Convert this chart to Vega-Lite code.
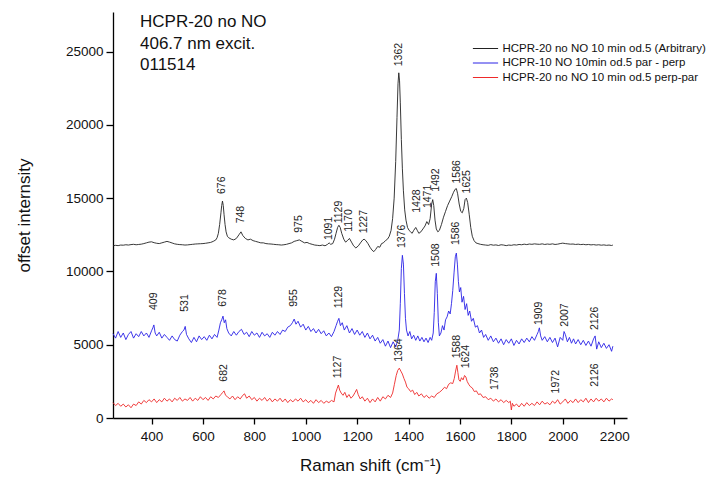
{
  "$schema": "https://vega.github.io/schema/vega-lite/v6.json",
  "width": 514,
  "height": 406,
  "autosize": "none",
  "padding": {"left": 113, "top": 12, "right": 79, "bottom": 67},
  "background": "white",
  "title": {
    "text": ["HCPR-20 no NO", "406.7 nm excit.", "011514"],
    "orient": "top",
    "anchor": "start",
    "frame": "group",
    "baseline": "top",
    "offset": 0,
    "dx": 27,
    "dy": 62,
    "fontSize": 17,
    "lineHeight": 21.5,
    "fontWeight": "normal",
    "font": "Liberation Sans",
    "color": "#111"
  },
  "config": {
    "view": {"stroke": null},
    "font": "Liberation Sans",
    "axis": {
      "grid": false,
      "domainColor": "#000",
      "domainWidth": 1.3,
      "tickColor": "#000",
      "tickWidth": 1.3,
      "labelFont": "Liberation Sans",
      "labelFontSize": 13.5,
      "labelColor": "#111",
      "labelOverlap": false,
      "labelFlush": false,
      "titleFont": "Liberation Sans",
      "titleFontSize": 17,
      "titleFontWeight": "normal",
      "titleColor": "#111"
    }
  },
  "datasets": {
    "black": [
      {"x":250,"y":11750},{"x":260,"y":11780},{"x":270,"y":11760},{"x":280,"y":11800},{"x":290,"y":11790},{"x":300,"y":11820},{"x":310,"y":11800},{"x":320,"y":11830},{"x":330,"y":11850},{"x":340,"y":11820},{"x":350,"y":11840},{"x":360,"y":11860},{"x":370,"y":11900},{"x":380,"y":11950},{"x":390,"y":12000},{"x":400,"y":12020},{"x":410,"y":11960},{"x":420,"y":11920},{"x":430,"y":11900},{"x":440,"y":11950},{"x":450,"y":12000},{"x":460,"y":12050},{"x":470,"y":12000},{"x":480,"y":11940},{"x":490,"y":11880},{"x":500,"y":11850},{"x":510,"y":11830},{"x":520,"y":11820},{"x":530,"y":11800},{"x":540,"y":11810},{"x":550,"y":11830},{"x":560,"y":11850},{"x":570,"y":11870},{"x":580,"y":11880},{"x":590,"y":11890},{"x":600,"y":11900},{"x":610,"y":11920},{"x":620,"y":11950},{"x":630,"y":11980},{"x":640,"y":12050},{"x":650,"y":12150},{"x":655,"y":12300},{"x":660,"y":12600},{"x":665,"y":13200},{"x":670,"y":14000},{"x":673,"y":14500},{"x":676,"y":14800},{"x":679,"y":14500},{"x":682,"y":13900},{"x":686,"y":13200},{"x":690,"y":12700},{"x":695,"y":12400},{"x":700,"y":12300},{"x":710,"y":12200},{"x":720,"y":12150},{"x":730,"y":12250},{"x":740,"y":12500},{"x":748,"y":12700},{"x":755,"y":12450},{"x":765,"y":12250},{"x":775,"y":12150},{"x":785,"y":12200},{"x":795,"y":12100},{"x":805,"y":12050},{"x":815,"y":12000},{"x":825,"y":11950},{"x":835,"y":11950},{"x":845,"y":11900},{"x":855,"y":11880},{"x":865,"y":11870},{"x":875,"y":11850},{"x":885,"y":11830},{"x":895,"y":11820},{"x":905,"y":11800},{"x":915,"y":11820},{"x":925,"y":11850},{"x":935,"y":11900},{"x":945,"y":11950},{"x":955,"y":12050},{"x":965,"y":12100},{"x":975,"y":12150},{"x":985,"y":12050},{"x":995,"y":11950},{"x":1005,"y":11980},{"x":1015,"y":11900},{"x":1025,"y":11850},{"x":1035,"y":11800},{"x":1045,"y":11780},{"x":1055,"y":11760},{"x":1065,"y":11800},{"x":1075,"y":11750},{"x":1085,"y":11850},{"x":1091,"y":11950},{"x":1097,"y":11850},{"x":1105,"y":11900},{"x":1112,"y":12200},{"x":1118,"y":12600},{"x":1124,"y":13000},{"x":1129,"y":13150},{"x":1134,"y":13000},{"x":1140,"y":12600},{"x":1148,"y":12200},{"x":1155,"y":12000},{"x":1162,"y":12100},{"x":1170,"y":12250},{"x":1178,"y":12000},{"x":1186,"y":11750},{"x":1195,"y":11600},{"x":1205,"y":11750},{"x":1215,"y":12000},{"x":1222,"y":12150},{"x":1227,"y":12200},{"x":1234,"y":12100},{"x":1242,"y":11900},{"x":1250,"y":11650},{"x":1258,"y":11450},{"x":1265,"y":11350},{"x":1272,"y":11500},{"x":1280,"y":11700},{"x":1288,"y":11650},{"x":1295,"y":11900},{"x":1302,"y":11950},{"x":1310,"y":12100},{"x":1318,"y":12200},{"x":1325,"y":12400},{"x":1332,"y":12800},{"x":1338,"y":13600},{"x":1344,"y":15000},{"x":1350,"y":17500},{"x":1355,"y":20500},{"x":1359,"y":22800},{"x":1362,"y":23550},{"x":1365,"y":23000},{"x":1368,"y":21500},{"x":1372,"y":19000},{"x":1376,"y":17000},{"x":1380,"y":15500},{"x":1385,"y":14200},{"x":1390,"y":13500},{"x":1396,"y":13000},{"x":1402,"y":12800},{"x":1408,"y":12700},{"x":1414,"y":12600},{"x":1420,"y":12800},{"x":1428,"y":13000},{"x":1434,"y":12800},{"x":1440,"y":12600},{"x":1448,"y":12700},{"x":1456,"y":12900},{"x":1464,"y":13100},{"x":1471,"y":13400},{"x":1478,"y":13200},{"x":1484,"y":13600},{"x":1490,"y":14600},{"x":1494,"y":14900},{"x":1498,"y":14500},{"x":1503,"y":13500},{"x":1508,"y":12900},{"x":1514,"y":12700},{"x":1520,"y":12800},{"x":1528,"y":13200},{"x":1536,"y":13700},{"x":1544,"y":14100},{"x":1552,"y":14500},{"x":1560,"y":14800},{"x":1568,"y":15100},{"x":1575,"y":15400},{"x":1581,"y":15600},{"x":1586,"y":15650},{"x":1591,"y":15300},{"x":1597,"y":14600},{"x":1603,"y":14100},{"x":1609,"y":14000},{"x":1615,"y":14300},{"x":1620,"y":14900},{"x":1625,"y":15000},{"x":1630,"y":14700},{"x":1636,"y":13900},{"x":1642,"y":13000},{"x":1648,"y":12400},{"x":1655,"y":12100},{"x":1662,"y":11950},{"x":1670,"y":11900},{"x":1680,"y":11850},{"x":1690,"y":11820},{"x":1700,"y":11800},{"x":1710,"y":11780},{"x":1720,"y":11830},{"x":1730,"y":11790},{"x":1740,"y":11810},{"x":1750,"y":11770},{"x":1760,"y":11820},{"x":1770,"y":11800},{"x":1780,"y":11760},{"x":1790,"y":11800},{"x":1800,"y":11780},{"x":1810,"y":11820},{"x":1820,"y":11800},{"x":1830,"y":11840},{"x":1840,"y":11820},{"x":1850,"y":11860},{"x":1860,"y":11830},{"x":1870,"y":11870},{"x":1880,"y":11850},{"x":1890,"y":11880},{"x":1900,"y":11860},{"x":1910,"y":11850},{"x":1920,"y":11880},{"x":1930,"y":11840},{"x":1940,"y":11870},{"x":1950,"y":11850},{"x":1960,"y":11880},{"x":1970,"y":11840},{"x":1980,"y":11860},{"x":1990,"y":11900},{"x":2000,"y":11930},{"x":2010,"y":11900},{"x":2020,"y":11880},{"x":2030,"y":11860},{"x":2040,"y":11870},{"x":2050,"y":11840},{"x":2060,"y":11860},{"x":2070,"y":11830},{"x":2080,"y":11850},{"x":2090,"y":11820},{"x":2100,"y":11840},{"x":2110,"y":11810},{"x":2120,"y":11830},{"x":2130,"y":11800},{"x":2140,"y":11820},{"x":2150,"y":11790},{"x":2160,"y":11810},{"x":2170,"y":11780},{"x":2180,"y":11800},{"x":2190,"y":11770},{"x":2195,"y":11800}
    ],
    "blue": [
      {"x":250,"y":5760},{"x":260,"y":5450},{"x":270,"y":5900},{"x":280,"y":5500},{"x":290,"y":5800},{"x":300,"y":5350},{"x":310,"y":5700},{"x":320,"y":5900},{"x":330,"y":5450},{"x":340,"y":5750},{"x":350,"y":5550},{"x":360,"y":5900},{"x":370,"y":5600},{"x":380,"y":5800},{"x":390,"y":5500},{"x":400,"y":5950},{"x":405,"y":6150},{"x":409,"y":6350},{"x":414,"y":5800},{"x":420,"y":5600},{"x":430,"y":5850},{"x":440,"y":5450},{"x":450,"y":5700},{"x":460,"y":5500},{"x":470,"y":5300},{"x":480,"y":5600},{"x":490,"y":5350},{"x":500,"y":5250},{"x":510,"y":5650},{"x":520,"y":5900},{"x":526,"y":6000},{"x":531,"y":6250},{"x":536,"y":5700},{"x":545,"y":5400},{"x":555,"y":5150},{"x":565,"y":5500},{"x":575,"y":5200},{"x":585,"y":5600},{"x":595,"y":5350},{"x":605,"y":5550},{"x":615,"y":5300},{"x":625,"y":5650},{"x":635,"y":5400},{"x":645,"y":5700},{"x":655,"y":5500},{"x":662,"y":6000},{"x":668,"y":6500},{"x":673,"y":6700},{"x":678,"y":6950},{"x":683,"y":6500},{"x":688,"y":6700},{"x":693,"y":6100},{"x":700,"y":5800},{"x":710,"y":5600},{"x":720,"y":5900},{"x":730,"y":5650},{"x":740,"y":5900},{"x":750,"y":6050},{"x":760,"y":5700},{"x":770,"y":5850},{"x":780,"y":5550},{"x":790,"y":5900},{"x":800,"y":5650},{"x":810,"y":5800},{"x":820,"y":5500},{"x":830,"y":5850},{"x":840,"y":5600},{"x":850,"y":5750},{"x":860,"y":5500},{"x":870,"y":5850},{"x":880,"y":5650},{"x":890,"y":5900},{"x":900,"y":5700},{"x":910,"y":6000},{"x":920,"y":5900},{"x":930,"y":6200},{"x":940,"y":6300},{"x":948,"y":6500},{"x":955,"y":6750},{"x":962,"y":6400},{"x":970,"y":6600},{"x":980,"y":6200},{"x":990,"y":6400},{"x":1000,"y":6000},{"x":1010,"y":6250},{"x":1020,"y":5900},{"x":1030,"y":6100},{"x":1040,"y":5800},{"x":1050,"y":6050},{"x":1060,"y":5750},{"x":1070,"y":5950},{"x":1080,"y":5600},{"x":1090,"y":5800},{"x":1100,"y":5550},{"x":1110,"y":5900},{"x":1118,"y":6300},{"x":1124,"y":6600},{"x":1129,"y":6800},{"x":1135,"y":6300},{"x":1142,"y":6500},{"x":1150,"y":6000},{"x":1160,"y":6300},{"x":1170,"y":5800},{"x":1180,"y":6100},{"x":1190,"y":5700},{"x":1200,"y":6000},{"x":1210,"y":5650},{"x":1220,"y":5900},{"x":1230,"y":5500},{"x":1240,"y":5800},{"x":1250,"y":5400},{"x":1260,"y":5650},{"x":1270,"y":5250},{"x":1280,"y":5500},{"x":1290,"y":5100},{"x":1300,"y":5350},{"x":1310,"y":4900},{"x":1320,"y":5250},{"x":1330,"y":4800},{"x":1340,"y":5200},{"x":1350,"y":4850},{"x":1358,"y":5300},{"x":1364,"y":6000},{"x":1368,"y":7800},{"x":1372,"y":10200},{"x":1376,"y":11100},{"x":1380,"y":10500},{"x":1384,"y":8500},{"x":1388,"y":6800},{"x":1392,"y":6000},{"x":1398,"y":5600},{"x":1405,"y":5900},{"x":1412,"y":5400},{"x":1420,"y":5650},{"x":1428,"y":5300},{"x":1436,"y":5600},{"x":1444,"y":5250},{"x":1452,"y":5500},{"x":1460,"y":5200},{"x":1468,"y":5450},{"x":1476,"y":5150},{"x":1484,"y":5500},{"x":1490,"y":5300},{"x":1496,"y":5800},{"x":1500,"y":7200},{"x":1504,"y":9300},{"x":1508,"y":9870},{"x":1512,"y":8500},{"x":1516,"y":6500},{"x":1520,"y":5600},{"x":1526,"y":5800},{"x":1532,"y":6300},{"x":1538,"y":6000},{"x":1544,"y":6700},{"x":1550,"y":6900},{"x":1556,"y":7300},{"x":1562,"y":7100},{"x":1567,"y":7800},{"x":1572,"y":8700},{"x":1577,"y":9900},{"x":1582,"y":11000},{"x":1586,"y":11250},{"x":1590,"y":10500},{"x":1594,"y":9300},{"x":1598,"y":8600},{"x":1603,"y":8900},{"x":1608,"y":7900},{"x":1614,"y":8300},{"x":1620,"y":7400},{"x":1626,"y":7800},{"x":1632,"y":7000},{"x":1638,"y":7300},{"x":1645,"y":6600},{"x":1652,"y":6800},{"x":1660,"y":6200},{"x":1668,"y":6300},{"x":1676,"y":5800},{"x":1684,"y":6000},{"x":1692,"y":5500},{"x":1700,"y":5700},{"x":1710,"y":5300},{"x":1720,"y":5600},{"x":1730,"y":5200},{"x":1740,"y":5450},{"x":1750,"y":5100},{"x":1760,"y":5400},{"x":1770,"y":5000},{"x":1780,"y":5350},{"x":1790,"y":5100},{"x":1800,"y":5400},{"x":1810,"y":4950},{"x":1820,"y":5300},{"x":1830,"y":5050},{"x":1840,"y":5400},{"x":1850,"y":5150},{"x":1860,"y":5450},{"x":1870,"y":5200},{"x":1880,"y":5550},{"x":1890,"y":5300},{"x":1900,"y":5700},{"x":1905,"y":5900},{"x":1909,"y":6150},{"x":1914,"y":5600},{"x":1920,"y":5300},{"x":1930,"y":5550},{"x":1940,"y":5200},{"x":1950,"y":5500},{"x":1960,"y":5150},{"x":1970,"y":5450},{"x":1980,"y":4850},{"x":1990,"y":5500},{"x":2000,"y":5300},{"x":2005,"y":5900},{"x":2010,"y":5700},{"x":2018,"y":5200},{"x":2026,"y":5500},{"x":2034,"y":5100},{"x":2042,"y":5400},{"x":2050,"y":5050},{"x":2060,"y":5350},{"x":2070,"y":5000},{"x":2080,"y":5300},{"x":2090,"y":4950},{"x":2100,"y":5250},{"x":2110,"y":4900},{"x":2120,"y":5400},{"x":2126,"y":5600},{"x":2132,"y":4700},{"x":2140,"y":5200},{"x":2150,"y":4800},{"x":2160,"y":5100},{"x":2170,"y":4750},{"x":2180,"y":5000},{"x":2190,"y":4550},{"x":2195,"y":4900}
    ],
    "red": [
      {"x":250,"y":1050},{"x":260,"y":850},{"x":270,"y":1000},{"x":280,"y":800},{"x":290,"y":950},{"x":300,"y":750},{"x":310,"y":900},{"x":320,"y":700},{"x":330,"y":950},{"x":340,"y":850},{"x":350,"y":1100},{"x":360,"y":950},{"x":370,"y":1200},{"x":380,"y":1050},{"x":390,"y":1250},{"x":400,"y":1100},{"x":410,"y":1300},{"x":420,"y":1050},{"x":430,"y":1250},{"x":440,"y":1100},{"x":450,"y":1350},{"x":460,"y":1150},{"x":470,"y":1300},{"x":480,"y":1100},{"x":490,"y":1350},{"x":500,"y":1200},{"x":510,"y":1400},{"x":520,"y":1150},{"x":530,"y":1300},{"x":540,"y":1200},{"x":550,"y":1400},{"x":560,"y":1150},{"x":570,"y":1350},{"x":580,"y":1200},{"x":590,"y":1450},{"x":600,"y":1250},{"x":610,"y":1400},{"x":620,"y":1200},{"x":630,"y":1450},{"x":640,"y":1300},{"x":650,"y":1500},{"x":660,"y":1400},{"x":670,"y":1600},{"x":677,"y":1750},{"x":682,"y":1850},{"x":688,"y":1550},{"x":695,"y":1450},{"x":705,"y":1300},{"x":715,"y":1500},{"x":725,"y":1250},{"x":735,"y":1450},{"x":745,"y":1300},{"x":755,"y":1550},{"x":762,"y":1650},{"x":770,"y":1350},{"x":780,"y":1500},{"x":790,"y":1250},{"x":800,"y":1400},{"x":810,"y":1150},{"x":820,"y":1350},{"x":830,"y":1200},{"x":840,"y":1400},{"x":850,"y":1150},{"x":860,"y":1350},{"x":870,"y":1100},{"x":880,"y":1300},{"x":890,"y":1150},{"x":900,"y":1350},{"x":910,"y":1100},{"x":920,"y":1300},{"x":930,"y":1050},{"x":940,"y":1250},{"x":950,"y":1100},{"x":960,"y":1300},{"x":970,"y":1150},{"x":980,"y":1350},{"x":990,"y":1100},{"x":1000,"y":1250},{"x":1010,"y":1050},{"x":1020,"y":1200},{"x":1030,"y":1000},{"x":1040,"y":1250},{"x":1050,"y":1050},{"x":1060,"y":1200},{"x":1070,"y":1000},{"x":1080,"y":1150},{"x":1090,"y":1050},{"x":1100,"y":1200},{"x":1110,"y":1100},{"x":1116,"y":1700},{"x":1122,"y":2000},{"x":1127,"y":2250},{"x":1132,"y":1900},{"x":1138,"y":1700},{"x":1145,"y":1550},{"x":1152,"y":1750},{"x":1160,"y":1400},{"x":1168,"y":1600},{"x":1176,"y":1350},{"x":1184,"y":1500},{"x":1192,"y":1750},{"x":1198,"y":1950},{"x":1204,"y":1600},{"x":1212,"y":1300},{"x":1220,"y":1450},{"x":1230,"y":1150},{"x":1240,"y":1350},{"x":1250,"y":1050},{"x":1260,"y":1300},{"x":1270,"y":1100},{"x":1280,"y":1400},{"x":1290,"y":1150},{"x":1300,"y":1450},{"x":1310,"y":1300},{"x":1320,"y":1550},{"x":1330,"y":1400},{"x":1338,"y":1700},{"x":1345,"y":2300},{"x":1352,"y":2900},{"x":1358,"y":3250},{"x":1364,"y":3400},{"x":1370,"y":3200},{"x":1376,"y":3000},{"x":1382,"y":2700},{"x":1388,"y":2450},{"x":1394,"y":2100},{"x":1400,"y":2000},{"x":1408,"y":1800},{"x":1416,"y":1900},{"x":1424,"y":1600},{"x":1432,"y":1750},{"x":1440,"y":1500},{"x":1450,"y":1650},{"x":1460,"y":1400},{"x":1470,"y":1550},{"x":1480,"y":1350},{"x":1490,"y":1500},{"x":1500,"y":1400},{"x":1510,"y":1650},{"x":1520,"y":1750},{"x":1530,"y":1900},{"x":1540,"y":2100},{"x":1548,"y":2000},{"x":1556,"y":2300},{"x":1564,"y":2400},{"x":1572,"y":2350},{"x":1578,"y":2700},{"x":1583,"y":3200},{"x":1588,"y":3600},{"x":1592,"y":3100},{"x":1596,"y":2600},{"x":1601,"y":2500},{"x":1606,"y":2750},{"x":1612,"y":2600},{"x":1618,"y":2900},{"x":1623,"y":2800},{"x":1628,"y":2500},{"x":1634,"y":2300},{"x":1640,"y":2150},{"x":1648,"y":2050},{"x":1656,"y":1800},{"x":1664,"y":1850},{"x":1672,"y":1600},{"x":1680,"y":1650},{"x":1690,"y":1400},{"x":1700,"y":1450},{"x":1710,"y":1250},{"x":1720,"y":1350},{"x":1730,"y":1150},{"x":1740,"y":1300},{"x":1750,"y":1100},{"x":1760,"y":1250},{"x":1770,"y":1050},{"x":1780,"y":1200},{"x":1790,"y":1050},{"x":1796,"y":1150},{"x":1800,"y":550},{"x":1804,"y":1000},{"x":1810,"y":800},{"x":1820,"y":950},{"x":1830,"y":750},{"x":1840,"y":1000},{"x":1850,"y":800},{"x":1860,"y":1050},{"x":1870,"y":850},{"x":1880,"y":1000},{"x":1890,"y":850},{"x":1900,"y":1100},{"x":1910,"y":900},{"x":1920,"y":1150},{"x":1930,"y":950},{"x":1940,"y":1050},{"x":1950,"y":900},{"x":1960,"y":1150},{"x":1970,"y":1000},{"x":1980,"y":1250},{"x":1990,"y":950},{"x":2000,"y":1100},{"x":2010,"y":1300},{"x":2020,"y":1000},{"x":2030,"y":1200},{"x":2040,"y":1050},{"x":2050,"y":1300},{"x":2060,"y":1050},{"x":2070,"y":1250},{"x":2080,"y":1100},{"x":2090,"y":1350},{"x":2100,"y":1050},{"x":2110,"y":1300},{"x":2120,"y":1100},{"x":2130,"y":1350},{"x":2140,"y":1150},{"x":2150,"y":1300},{"x":2160,"y":1100},{"x":2170,"y":1350},{"x":2180,"y":1150},{"x":2190,"y":1300},{"x":2195,"y":1250}
    ],
    "labels": [
      {"x":676,"y":15280,"t":"676"},{"x":748,"y":13280,"t":"748"},{"x":975,"y":12640,"t":"975"},{"x":1091,"y":12140,"t":"1091"},{"x":1130,"y":13280,"t":"1129"},{"x":1170,"y":12700,"t":"1170"},{"x":1227,"y":12600,"t":"1227"},{"x":1362,"y":24000,"t":"1362"},{"x":1433,"y":14000,"t":"1428"},{"x":1477,"y":14320,"t":"1471"},{"x":1505,"y":15440,"t":"1492"},{"x":1589,"y":16000,"t":"1586"},{"x":1628,"y":15320,"t":"1625"},
      {"x":409,"y":7370,"t":"409"},{"x":531,"y":7250,"t":"531"},{"x":678,"y":7590,"t":"678"},{"x":955,"y":7590,"t":"955"},{"x":1129,"y":7480,"t":"1129"},{"x":1376,"y":11590,"t":"1376"},{"x":1508,"y":10320,"t":"1508"},{"x":1586,"y":11800,"t":"1586"},{"x":1909,"y":6340,"t":"1909"},{"x":2007,"y":6230,"t":"2007"},{"x":2126,"y":6000,"t":"2126"},
      {"x":682,"y":2480,"t":"682"},{"x":1127,"y":2710,"t":"1127"},{"x":1364,"y":3840,"t":"1364"},{"x":1588,"y":4070,"t":"1588"},{"x":1624,"y":3390,"t":"1624"},{"x":1738,"y":1910,"t":"1738"},{"x":1972,"y":1680,"t":"1972"},{"x":2126,"y":2130,"t":"2126"}
    ]
  },
  "layer": [
    {
      "data": {"name": "black"},
      "mark": {"type": "line", "strokeWidth": 0.9},
      "encoding": {
        "x": {
          "field": "x", "type": "quantitative",
          "scale": {"domain": [250, 2250], "nice": false, "zero": false},
          "axis": {
            "title": "Raman shift (cm⁻¹)",
            "values": [400,500,600,700,800,900,1000,1100,1200,1300,1400,1500,1600,1700,1800,1900,2000,2100,2200],
            "format": "d",
            "tickSize": 6,
            "labelOverlap": "parity",
            "labelPadding": 5,
            "titlePadding": 15
          }
        },
        "y": {
          "field": "y", "type": "quantitative",
          "scale": {"domain": [0, 27700], "nice": false, "zero": false},
          "axis": {
            "title": "offset internsity",
            "values": [0,2500,5000,7500,10000,12500,15000,17500,20000,22500,25000,27500],
            "labelExpr": "datum.value % 5000 === 0 ? datum.label : ''",
            "format": "d",
            "tickSize": {"condition": {"test": "datum.value % 5000 === 0", "value": 7}, "value": 4},
            "labelPadding": 3,
            "titlePadding": 32
          }
        },
        "color": {
          "datum": "HCPR-20 no NO 10 min od.5 (Arbitrary)",
          "type": "nominal",
          "scale": {
            "domain": ["HCPR-20 no NO 10 min od.5 (Arbitrary)", "HCPR-10 NO 10min od.5 par - perp", "HCPR-20 no NO 10 min od.5 perp-par"],
            "range": ["#222222", "#2a22e6", "#ee2a2a"]
          },
          "legend": {
            "title": null,
            "orient": "none",
            "legendX": 365,
            "legendY": 29,
            "symbolType": "M-1.8,0H1.8",
            "symbolSize": 196,
            "symbolStrokeWidth": 1,
            "labelFont": "Liberation Sans",
            "labelFontSize": 11.5,
            "labelColor": "#111",
            "labelOffset": 9.5,
            "rowPadding": 1.5,
            "padding": 0,
            "labelLimit": 400
          }
        }
      }
    },
    {
      "data": {"name": "blue"},
      "mark": {"type": "line", "strokeWidth": 0.9},
      "encoding": {
        "x": {"field": "x", "type": "quantitative"},
        "y": {"field": "y", "type": "quantitative"},
        "color": {"datum": "HCPR-10 NO 10min od.5 par - perp", "type": "nominal"}
      }
    },
    {
      "data": {"name": "red"},
      "mark": {"type": "line", "strokeWidth": 0.9},
      "encoding": {
        "x": {"field": "x", "type": "quantitative"},
        "y": {"field": "y", "type": "quantitative"},
        "color": {"datum": "HCPR-20 no NO 10 min od.5 perp-par", "type": "nominal"}
      }
    },
    {
      "data": {"name": "labels"},
      "mark": {"type": "text", "angle": 270, "align": "left", "baseline": "middle", "fontSize": 10.5, "font": "Liberation Sans", "color": "#222"},
      "encoding": {
        "x": {"field": "x", "type": "quantitative"},
        "y": {"field": "y", "type": "quantitative"},
        "text": {"field": "t"}
      }
    },
    {
      "mark": {"type": "text", "align": "left", "baseline": "middle", "fontSize": 16, "font": "Liberation Sans", "color": "#111", "text": "p-comp"},
      "encoding": {"x": {"datum": 284}, "y": {"datum": 9550}}
    },
    {
      "mark": {"type": "text", "align": "left", "baseline": "middle", "fontSize": 16, "font": "Liberation Sans", "color": "#111", "text": "dp-comp"},
      "encoding": {"x": {"datum": 308}, "y": {"datum": 3610}}
    }
  ]
}
